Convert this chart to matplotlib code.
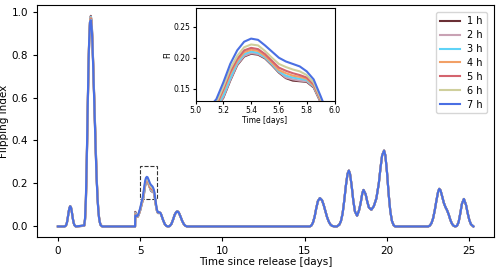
import matplotlib.pyplot as plt
import matplotlib.patches as patches
import numpy as np

# release durations
hours = ['1 h', '2 h', '3 h', '4 h', '5 h', '6 h', '7 h']
colors = ['#6a2f35', '#c9a2b4', '#5fd3f7', '#f2a066', '#d4646e', '#cfcf9c', '#4a6fe3']

# shared part of the flipping index curve (all runs look alike here)
t_start = [0, 0.4, 0.45, 0.5, 0.55, 0.6, 0.65, 0.7, 0.75, 0.8, 0.85, 0.9, 0.95, 1.0, 1.05, 1.1]
fi_start = [0, 0, 0.002, 0.006, 0.018, 0.04, 0.066, 0.086, 0.094, 0.087, 0.066, 0.04, 0.019, 0.007, 0.002, 0]

t_end = [6.8, 6.9, 7.0, 7.1, 7.2, 7.27, 7.35, 7.45, 7.55, 7.65, 7.75, 7.85,
         15.3, 15.4, 15.5, 15.6, 15.7, 15.8, 15.92, 16.05, 16.15, 16.25, 16.35, 16.45, 16.55, 16.65, 16.8,
         16.95, 17.1, 17.2, 17.3, 17.4, 17.5, 17.6, 17.68, 17.75, 17.85, 17.95, 18.05, 18.18,
         18.3, 18.4, 18.5, 18.57, 18.7, 18.8, 18.9, 19.05,
         19.2, 19.35, 19.5, 19.6, 19.7, 19.82, 19.9, 20.0, 20.1, 20.2, 20.3, 20.4, 20.5,
         22.5, 22.6, 22.7, 22.8, 22.9, 23.0, 23.1, 23.17, 23.25, 23.35, 23.45, 23.55, 23.65, 23.75,
         23.85, 23.95, 24.05, 24.15,
         24.25, 24.35, 24.45, 24.55, 24.67, 24.8, 24.9, 25.0, 25.1, 25.25]
fi_end = [0.002, 0.012, 0.032, 0.055, 0.068, 0.07, 0.064, 0.046, 0.026, 0.011, 0.003, 0,
          0, 0.004, 0.018, 0.045, 0.085, 0.118, 0.132, 0.122, 0.1, 0.072, 0.045, 0.024, 0.01, 0.003, 0,
          0, 0.008, 0.025, 0.06, 0.12, 0.19, 0.245, 0.26, 0.245, 0.19, 0.12, 0.07, 0.05,
          0.075, 0.11, 0.155, 0.17, 0.15, 0.115, 0.088, 0.078,
          0.095, 0.13, 0.2, 0.27, 0.33, 0.353, 0.33, 0.25, 0.15, 0.07, 0.025, 0.006, 0,
          0, 0.004, 0.015, 0.038, 0.075, 0.12, 0.16, 0.175, 0.168, 0.14, 0.11, 0.09, 0.075, 0.055,
          0.03, 0.012, 0.003, 0,
          0.003, 0.02, 0.06, 0.105, 0.128, 0.1, 0.062, 0.03, 0.01, 0]

# main peak near day 2, per run
t_peak = [1.6, 1.65, 1.7, 1.75, 1.8, 1.85, 1.9, 1.95, 2.0, 2.05, 2.1, 2.15, 2.2, 2.25, 2.3, 2.35,
          2.4, 2.45, 2.5, 2.55, 2.6, 2.7]
peak_1h = [0.003, 0.030, 0.110, 0.270, 0.490, 0.700, 0.860, 0.950, 0.980, 0.955, 0.870, 0.750, 0.620, 0.490, 0.360, 0.245,
           0.150, 0.086, 0.044, 0.020, 0.007, 0]
peak_2h = [0.003, 0.032, 0.113, 0.275, 0.495, 0.703, 0.862, 0.950, 0.977, 0.951, 0.867, 0.747, 0.617, 0.487, 0.357, 0.242,
           0.148, 0.085, 0.043, 0.020, 0.007, 0]
peak_3h = [0.004, 0.033, 0.117, 0.280, 0.500, 0.707, 0.864, 0.950, 0.974, 0.947, 0.864, 0.743, 0.613, 0.483, 0.353, 0.240,
           0.147, 0.084, 0.043, 0.019, 0.007, 0]
peak_4h = [0.004, 0.035, 0.120, 0.285, 0.505, 0.710, 0.866, 0.950, 0.970, 0.943, 0.860, 0.740, 0.610, 0.480, 0.350, 0.238,
           0.145, 0.083, 0.042, 0.019, 0.007, 0]
peak_5h = [0.004, 0.036, 0.123, 0.290, 0.510, 0.713, 0.867, 0.950, 0.967, 0.939, 0.857, 0.737, 0.607, 0.477, 0.347, 0.235,
           0.143, 0.082, 0.041, 0.019, 0.006, 0]
peak_6h = [0.005, 0.038, 0.127, 0.295, 0.515, 0.717, 0.868, 0.950, 0.963, 0.935, 0.853, 0.733, 0.603, 0.473, 0.343, 0.232,
           0.142, 0.081, 0.041, 0.018, 0.006, 0]
peak_7h = [0.005, 0.040, 0.130, 0.300, 0.520, 0.720, 0.870, 0.950, 0.960, 0.930, 0.850, 0.730, 0.600, 0.470, 0.340, 0.230,
           0.140, 0.080, 0.040, 0.018, 0.006, 0]

# zoomed window around day 5-6, per run
t_win = [4.6, 4.69, 4.7, 4.75, 4.8, 4.85, 4.9, 5.0, 5.1, 5.15, 5.2, 5.25, 5.3, 5.35, 5.4, 5.45, 5.5,
         5.55, 5.6, 5.65, 5.7, 5.75, 5.8, 5.85, 5.9, 5.95, 6.0, 6.05, 6.1, 6.15, 6.2, 6.25, 6.3,
         6.4, 6.5, 6.6, 6.7]
win_1h = [0, 0, 0.068, 0.060, 0.045, 0.045, 0.052, 0.075, 0.105, 0.120, 0.135, 0.163, 0.188, 0.202, 0.2065, 0.205, 0.199,
          0.188, 0.176, 0.167, 0.163, 0.162, 0.161, 0.152, 0.128, 0.100, 0.078, 0.066, 0.062, 0.064, 0.064, 0.060, 0.050,
          0.028, 0.010, 0.002, 0]
win_2h = [0, 0, 0.065, 0.059, 0.045, 0.045, 0.052, 0.075, 0.106, 0.120, 0.136, 0.164, 0.189, 0.203, 0.2075, 0.206, 0.200,
          0.189, 0.177, 0.168, 0.165, 0.163, 0.162, 0.153, 0.129, 0.100, 0.078, 0.066, 0.062, 0.064, 0.064, 0.060, 0.050,
          0.028, 0.010, 0.002, 0]
win_3h = [0, 0, 0.061, 0.057, 0.045, 0.045, 0.053, 0.076, 0.107, 0.121, 0.139, 0.167, 0.192, 0.206, 0.210, 0.208, 0.201,
          0.190, 0.178, 0.171, 0.168, 0.166, 0.164, 0.154, 0.130, 0.101, 0.079, 0.066, 0.062, 0.064, 0.064, 0.060, 0.050,
          0.028, 0.010, 0.002, 0]
win_4h = [0, 0, 0.058, 0.056, 0.046, 0.046, 0.054, 0.077, 0.109, 0.122, 0.146, 0.174, 0.195, 0.209, 0.213, 0.211, 0.203,
          0.192, 0.180, 0.175, 0.171, 0.169, 0.166, 0.155, 0.131, 0.102, 0.080, 0.067, 0.063, 0.064, 0.064, 0.060, 0.050,
          0.028, 0.010, 0.002, 0]
win_5h = [0, 0, 0.055, 0.054, 0.046, 0.047, 0.055, 0.079, 0.111, 0.124, 0.149, 0.177, 0.198, 0.212, 0.216, 0.214, 0.206,
          0.195, 0.184, 0.179, 0.175, 0.172, 0.168, 0.157, 0.132, 0.104, 0.081, 0.067, 0.063, 0.065, 0.064, 0.060, 0.050,
          0.028, 0.010, 0.002, 0]
win_6h = [0, 0, 0.052, 0.053, 0.047, 0.048, 0.057, 0.081, 0.114, 0.127, 0.153, 0.182, 0.203, 0.217, 0.2215, 0.220, 0.211,
          0.200, 0.190, 0.185, 0.181, 0.178, 0.172, 0.160, 0.134, 0.106, 0.082, 0.068, 0.064, 0.065, 0.064, 0.060, 0.050,
          0.028, 0.010, 0.002, 0]
win_7h = [0, 0, 0.050, 0.052, 0.048, 0.050, 0.060, 0.085, 0.120, 0.133, 0.160, 0.190, 0.212, 0.226, 0.231, 0.229, 0.220,
          0.210, 0.200, 0.194, 0.190, 0.186, 0.178, 0.165, 0.138, 0.110, 0.085, 0.070, 0.065, 0.066, 0.065, 0.060, 0.050,
          0.028, 0.010, 0.002, 0]

peaks = [peak_1h, peak_2h, peak_3h, peak_4h, peak_5h, peak_6h, peak_7h]
windows = [win_1h, win_2h, win_3h, win_4h, win_5h, win_6h, win_7h]

t_all = np.concatenate([t_start, t_peak, t_win, t_end])

fig = plt.figure(figsize=(5.0, 2.69), dpi=100)
ax = fig.add_axes([0.074, 0.119, 0.914, 0.862])
axins = fig.add_axes([0.391, 0.6245, 0.278, 0.3445])

for label, color, pk, win in zip(hours, colors, peaks, windows):
    fi = np.concatenate([fi_start, pk, win, fi_end])
    ax.plot(t_all, fi, color=color, lw=1.5, label=label)
    axins.plot(t_all, fi, color=color, lw=1.5)

ax.set_xlim(-1.27, 26.5)
ax.set_ylim(-0.049, 1.03)
ax.set_xticks([0, 5, 10, 15, 20, 25])
ax.set_yticks([0.0, 0.2, 0.4, 0.6, 0.8, 1.0])
ax.tick_params(labelsize=7.5, length=3)
ax.set_xlabel('Time since release [days]', fontsize=7.5, labelpad=1)
ax.set_ylabel('Flipping Index', fontsize=7.5, labelpad=2)
ax.legend(loc='upper right', fontsize=7, handlelength=2.0, labelspacing=0.4,
          borderaxespad=0.5, bbox_to_anchor=(0.995, 0.99))

# box marking the zoomed region
rect = patches.Rectangle((5.0, 0.13), 1.0, 0.15, fill=False, ls='--', lw=0.8, ec='#333333')
ax.add_patch(rect)

axins.set_xlim(5.0, 6.0)
axins.set_ylim(0.13, 0.28)
axins.set_xticks([5.0, 5.2, 5.4, 5.6, 5.8, 6.0])
axins.set_yticks([0.15, 0.20, 0.25])
axins.tick_params(labelsize=5.5, length=2, pad=1.5)
axins.set_xlabel('Time [days]', fontsize=5.5, labelpad=0.5)
axins.set_ylabel('FI', fontsize=5.5, labelpad=1)

fig.savefig('out.png', dpi=100)
